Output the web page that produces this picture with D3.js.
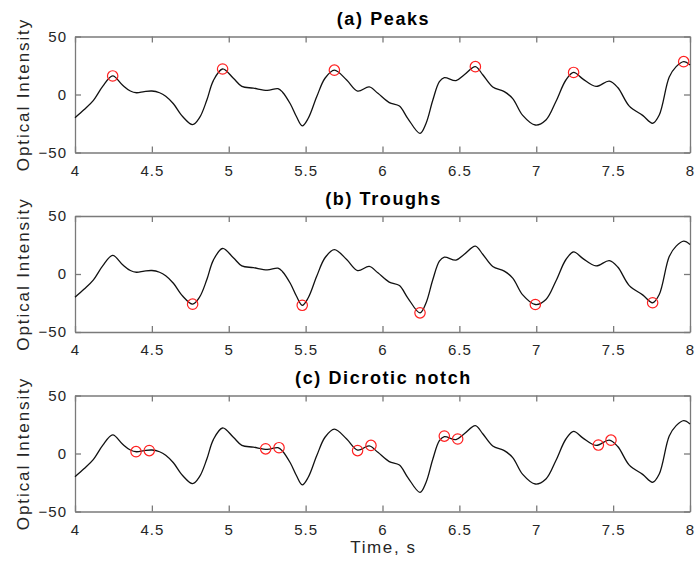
<!DOCTYPE html>
<html>
<head>
<meta charset="utf-8">
<script src="https://cdn.jsdelivr.net/npm/d3@7"></script>
<style>
	body { margin: 0; background: #fff; }
	text { font-family: 'Liberation Sans', Arial, Helvetica, sans-serif; }
</style>
</head>
<body>
<div id="content-wrapper"></div>
<script>
/***********************************************************************/
//Data
/***********************************************************************/
const time = [4.00, 4.06, 4.12, 4.18, 4.245, 4.31, 4.36, 4.40, 4.45, 4.50, 4.55, 4.59, 4.64, 4.70, 4.765,
	4.81, 4.857, 4.90, 4.96, 5.03, 5.085, 5.16, 5.25, 5.32, 5.35, 5.40, 5.44, 5.478, 5.517, 5.572,
	5.626, 5.687, 5.767, 5.838, 5.914, 5.97, 6.044, 6.11, 6.164, 6.244, 6.283, 6.327, 6.37, 6.402,
	6.478, 6.532, 6.604, 6.652, 6.717, 6.792, 6.847, 6.912, 6.994, 7.063, 7.128, 7.193, 7.243,
	7.302, 7.389, 7.475, 7.53, 7.605, 7.692, 7.757, 7.80, 7.865, 7.91, 7.959, 8.00]

const intensity = [-20, -13, -5, 7, 16, 8, 3, 1.5, 2.5, 3, 1.5, -1.5, -8, -19, -26,
	-20, -5, 12, 22, 14, 7, 5.5, 3.5, 5, 2, -8, -19, -27, -20.5, -2,
	14, 21, 12.5, 3, 6.5, 1, -7, -10, -20.5, -33.5, -25, -5, 11, 14.5,
	12, 17, 24, 17, 6.5, 2.5, -3.5, -18, -26.3, -22, -6, 12.5, 19,
	13.5, 7, 11.5, 6, -10, -18, -24.8, -17.7, 15, 24, 28.3, 25.5]

const peakTime = [4.245, 4.96, 5.687, 6.604, 7.243, 7.959]
const peakValue = [16, 22, 21, 24, 19, 28.3]

const troughTime = [4.765, 5.478, 6.244, 6.994, 7.757]
const troughValue = [-26, -27, -33.5, -26.3, -24.8]

const notchTime = [4.397, 4.483, 5.24, 5.327, 5.838, 5.925, 6.402, 6.489, 7.404, 7.486]
const notchValue = [1.6, 2.5, 4, 5, 2.5, 7, 15, 12.5, 7.3, 11.5]

const panelTitles = ['(a) Peaks', '(b) Troughs', '(c) Dicrotic notch']
const xTickValues = [4, 4.5, 5, 5.5, 6, 6.5, 7, 7.5, 8]
const yTickValues = [-50, 0, 50]

const signal = time.map((t, i) => ({ t, v: intensity[i] }))
const markerSets = [
	peakTime.map((t, i) => ({ t, v: peakValue[i] })),
	troughTime.map((t, i) => ({ t, v: troughValue[i] })),
	notchTime.map((t, i) => ({ t, v: notchValue[i] }))
]

/***********************************************************************/
//Plot Area
/***********************************************************************/
const width = 696
const height = 565
const margin = { left: 75, top: 36.5 }
const plotAreaWidth = 615
const panelHeight = 116
const panelStep = 179.5

const boxColor = '#7a7a7a'
const textColor = '#262626'

const svg = d3.select('#content-wrapper')
	.append('svg')
	.attr('width', width)
	.attr('height', height)

/***********************************************************************/
//Scale
/***********************************************************************/
const xScale = d3.scaleLinear()
	.domain([4, 8])
	.range([0, plotAreaWidth])

const yScale = d3.scaleLinear()
	.domain([-50, 50])
	.range([panelHeight, 0])

const line = d3.line()
	.curve(d3.curveCatmullRom.alpha(0.5))
	.x(d => xScale(d.t))
	.y(d => yScale(d.v))

/***********************************************************************/
//Panels
/***********************************************************************/
panelTitles.forEach((title, i) => {

	const g = svg.append('g')
		.attr('transform', 'translate(' + margin.left + ',' + (margin.top + i * panelStep) + ')')

	const xAxis = d3.axisBottom(xScale)
		.tickValues(xTickValues)
		.tickFormat(d3.format('~g'))
		.tickSize(-6)
		.tickSizeOuter(0)
		.tickPadding(12.5)

	const yAxis = d3.axisLeft(yScale)
		.tickValues(yTickValues)
		.tickSize(-6)
		.tickSizeOuter(0)
		.tickPadding(8)

	const topAxis = d3.axisTop(xScale).tickValues(xTickValues).tickFormat('').tickSize(-6).tickSizeOuter(0)
	const rightAxis = d3.axisRight(yScale).tickValues(yTickValues).tickFormat('').tickSize(-6).tickSizeOuter(0)

	g.append('g').attr('transform', 'translate(0,' + panelHeight + ')').call(xAxis)
	g.append('g').call(yAxis)
	g.append('g').call(topAxis)
	g.append('g').attr('transform', 'translate(' + plotAreaWidth + ',0)').call(rightAxis)

	g.selectAll('.domain, .tick line')
		.attr('stroke', boxColor)
		.attr('stroke-width', 1.3)

	g.selectAll('.tick text')
		.attr('fill', textColor)
		.style('font-size', '15px')
		.style('letter-spacing', '1px')

	g.append('path')
		.datum(signal)
		.attr('fill', 'none')
		.attr('stroke', '#111')
		.attr('stroke-width', 1.3)
		.attr('stroke-linejoin', 'round')
		.attr('d', line)

	g.selectAll('.marker')
		.data(markerSets[i])
		.join('circle')
		.attr('class', 'marker')
		.attr('cx', d => xScale(d.t))
		.attr('cy', d => yScale(d.v))
		.attr('r', 5.2)
		.attr('fill', 'none')
		.attr('stroke', '#ff2020')
		.attr('stroke-width', 1.2)

	g.append('text')
		.attr('x', plotAreaWidth / 2 + 1)
		.attr('y', -11.5)
		.attr('text-anchor', 'middle')
		.attr('fill', '#000')
		.style('font-size', '18px')
		.style('font-weight', 'bold')
		.style('letter-spacing', '1.6px')
		.text(title)

	g.append('text')
		.attr('transform', 'translate(-46.5,' + panelHeight / 2 + ') rotate(-90)')
		.attr('text-anchor', 'middle')
		.attr('fill', textColor)
		.style('font-size', '17px')
		.style('letter-spacing', '1.9px')
		.text('Optical Intensity')

	if (i === panelTitles.length - 1) {
		g.append('text')
			.attr('x', plotAreaWidth / 2 + 1)
			.attr('y', 157.5)
			.attr('text-anchor', 'middle')
			.attr('fill', textColor)
			.style('font-size', '17px')
			.style('letter-spacing', '1.6px')
			.text('Time, s')
	}
})
</script>
</body>
</html>
